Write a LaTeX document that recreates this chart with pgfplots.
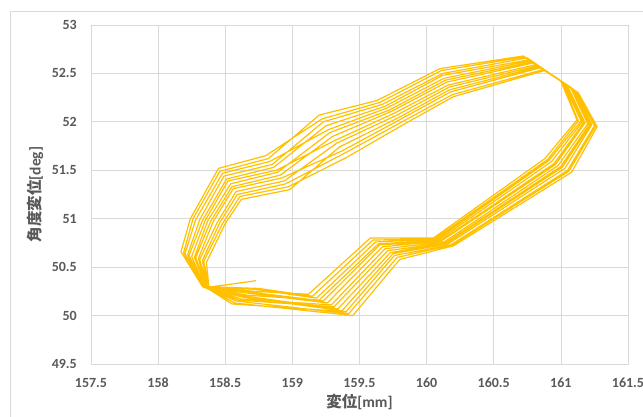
\documentclass[border=0pt]{standalone}
\usepackage{fontspec}
\setmainfont{Carlito}
\newfontfamily\cjk{Noto Sans CJK JP}
\usepackage{pgfplots}
\pgfplotsset{compat=1.18}
\definecolor{gridgray}{HTML}{D9D9D9}
\definecolor{txtgray}{HTML}{595959}
\definecolor{loopgold}{HTML}{FFC000}

% displacement [mm] vs. angular displacement [deg], 13 cycles of the loop
\pgfplotstableread{
x y
158.73 50.36
158.36 50.29
158.27 50.60
158.37 50.98
158.54 51.36
158.89 51.48
159.28 51.89
159.72 52.12
160.14 52.43
160.79 52.62
161.07 52.36
161.20 51.98
160.98 51.55
160.13 50.76
159.69 50.69
159.29 50.11
158.62 50.17
158.35 50.29
158.25 50.61
158.35 50.98
158.52 51.39
158.88 51.50
159.32 51.81
159.76 52.09
160.16 52.38
160.81 52.59
161.09 52.34
161.22 51.97
161.01 51.53
160.15 50.75
159.73 50.65
159.34 50.07
158.65 50.20
158.36 50.28
158.28 50.60
158.39 50.97
158.55 51.33
158.91 51.45
159.30 51.85
159.74 52.11
160.15 52.41
160.80 52.61
161.04 52.38
161.17 51.99
160.95 51.57
160.10 50.77
159.65 50.73
159.23 50.15
158.70 50.24
158.35 50.29
158.23 50.62
158.33 50.98
158.51 51.41
158.86 51.53
159.25 51.96
159.69 52.16
160.12 52.48
160.76 52.64
161.08 52.35
161.21 51.97
161.00 51.54
160.14 50.75
159.71 50.67
159.31 50.09
158.60 50.16
158.36 50.28
158.30 50.59
158.41 50.97
158.56 51.31
158.92 51.42
159.37 51.70
159.81 52.03
160.18 52.31
160.85 52.56
161.03 52.39
161.16 52.00
160.93 51.59
160.09 50.78
159.64 50.74
159.20 50.16
158.67 50.21
158.34 50.29
158.22 50.63
158.31 50.99
158.49 51.44
158.85 51.56
159.23 52.00
159.67 52.18
160.12 52.50
160.75 52.66
161.12 52.31
161.26 51.96
161.06 51.49
160.19 50.73
159.78 50.60
159.42 50.02
158.58 50.15
158.37 50.28
158.31 50.58
158.44 50.96
158.58 51.28
158.94 51.39
159.33 51.78
159.78 52.07
160.17 52.36
160.83 52.58
161.02 52.40
161.15 52.01
160.91 51.60
160.08 50.79
159.62 50.76
159.18 50.18
158.73 50.27
158.34 50.30
158.20 50.64
158.28 50.99
158.48 51.47
158.83 51.59
159.27 51.92
159.70 52.14
160.13 52.45
160.77 52.63
161.10 52.33
161.23 51.97
161.03 51.52
160.16 50.74
159.75 50.64
159.37 50.05
158.63 50.19
158.37 50.28
158.33 50.57
158.46 50.96
158.59 51.25
158.95 51.36
159.38 51.67
159.83 52.01
160.19 52.28
160.87 52.54
161.00 52.42
161.12 52.02
160.88 51.62
160.05 50.80
159.58 50.80
159.12 50.22
158.72 50.25
158.33 50.30
158.19 50.65
158.26 51.00
158.46 51.49
158.82 51.62
159.20 52.07
159.63 52.22
160.10 52.55
160.72 52.68
161.11 52.32
161.25 51.96
161.05 51.50
160.18 50.73
159.76 50.62
159.40 50.04
158.55 50.12
158.38 50.27
158.34 50.56
158.48 50.95
158.61 51.23
158.97 51.33
159.40 51.63
159.85 51.99
160.20 52.26
160.88 52.53
161.01 52.41
161.13 52.01
160.90 51.61
160.06 50.79
159.60 50.78
159.15 50.20
158.75 50.28
158.33 50.30
158.17 50.66
158.24 51.00
158.45 51.52
158.80 51.65
159.22 52.03
159.65 52.20
160.11 52.53
160.73 52.67
161.13 52.30
161.27 51.95
161.08 51.48
160.20 50.72
159.80 50.58
159.45 50.00
158.57 50.13
158.38 50.27
158.36 50.55
158.50 50.95
158.62 51.20
158.98 51.30
159.35 51.74
159.80 52.05
160.17 52.33
160.84 52.57
161.05 52.37
161.18 51.99
160.96 51.56
160.11 50.77
159.67 50.71
159.26 50.13
158.68 50.23
158.35 50.29
}\loopdata

\begin{document}
\begin{tikzpicture}
\useasboundingbox (0,0) rectangle (643bp,417bp);
\clip (0,0) rectangle (643bp,417bp);
% chart area frame
\draw[gridgray, line width=0.75bp] (10bp,-30bp) rectangle (690bp,406bp);
\begin{axis}[
  at={(91bp,53bp)}, anchor=south west,
  scale only axis, width=537bp, height=339bp,
  xmin=157.5, xmax=161.5, ymin=49.5, ymax=53,
  xtick={157.5,158,158.5,159,159.5,160,160.5,161,161.5},
  ytick={49.5,50,50.5,51,51.5,52,52.5,53},
  scaled ticks=false,
  /pgf/number format/assume math mode=true,
  major tick length=0pt,
  grid=major,
  major grid style={gridgray, line width=0.75bp},
  axis line style={gridgray, line width=0.75bp},
  ticklabel style={font=\bfseries\fontsize{14bp}{16bp}\selectfont, text=txtgray},
  xticklabel style={anchor=center, inner sep=0pt, yshift=-19bp},
  yticklabel style={anchor=east, inner sep=0pt, xshift=-14bp},
  xlabel={{\cjk\bfseries 変位}[mm]},
  ylabel={{\cjk\bfseries 角度変位}[deg]},
  label style={font=\bfseries\fontsize{15.5bp}{18bp}\selectfont, text=txtgray},
  xlabel style={at={(axis description cs:0.5,-0.112)}, anchor=center},
  ylabel style={at={(axis description cs:-0.104,0.5)}, anchor=center},
  clip=true,
]
\addplot[loopgold, line width=1.2bp, line join=round, mark=none] table[x=x, y=y] {\loopdata};
\end{axis}
\end{tikzpicture}
\end{document}
